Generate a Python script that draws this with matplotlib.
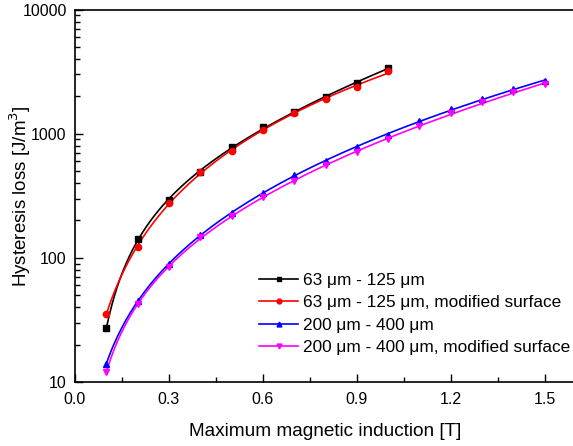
import numpy as np
import matplotlib
matplotlib.use("Agg")
import matplotlib.pyplot as plt
from matplotlib.ticker import LogLocator, FixedLocator, NullFormatter

plt.rcParams['font.family'] = ['Liberation Sans', 'DejaVu Sans']

# Data
x_small = [0.1, 0.2, 0.3, 0.4, 0.5, 0.6, 0.7, 0.8, 0.9, 1.0]
y_63_125 = [27, 141, 292, 493, 780, 1130, 1483, 1980, 2540, 3400]
y_63_125_mod = [35.3, 122, 278, 488, 728, 1065, 1473, 1910, 2360, 3190]
x_large = [0.1, 0.2, 0.3, 0.4, 0.5, 0.6, 0.7, 0.8, 0.9, 1.0, 1.1, 1.2, 1.3, 1.4, 1.5]
y_200_400 = [14.0, 44.9, 89, 153, 228, 334, 467, 601, 785, 975, 1263, 1577, 1900, 2275, 2654]
y_200_400_mod = [12.0, 42.3, 83.7, 146, 218, 310, 415, 558, 706, 899, 1159, 1456, 1786, 2148, 2506]

labels = ["63 μm - 125 μm", "63 μm - 125 μm, modified surface",
          "200 μm - 400 μm", "200 μm - 400 μm, modified surface"]
colors = ["black", "#ff0000", "#0000ff", "#ff00ff"]
markers = ["s", "o", "^", "v"]

W, H = 573, 446
fig = plt.figure(figsize=(W / 100, H / 100), dpi=100)
left, right, top, bottom = 75, 576, 9.5, 382
ax = fig.add_axes([left / W, (H - bottom) / H, (right - left) / W, (bottom - top) / H])

series = [(x_small, y_63_125), (x_small, y_63_125_mod),
          (x_large, y_200_400), (x_large, y_200_400_mod)]

for (xs, ys), c, m, lab in zip(series, colors, markers, labels):
    xs = np.asarray(xs, float)
    ys = np.asarray(ys, float)
    # smooth fitted curve in log-log space
    p = np.polyfit(np.log10(xs), np.log10(ys), 3)
    xf = np.linspace(xs.min(), xs.max(), 200)
    yf = 10 ** np.polyval(p, np.log10(xf))
    ax.plot(xf, yf, color=c, lw=1.2, zorder=2)
    ax.plot(xs, ys, linestyle='none', marker=m, color=c, ms=4.5, zorder=3)
    ax.plot([], [], color=c, marker=m, ms=3.5, lw=1.2, label=lab)

ax.set_yscale('log')
ax.set_xlim(0, 1.6)
ax.set_ylim(10, 10000)
ax.xaxis.set_major_locator(FixedLocator([0.0, 0.3, 0.6, 0.9, 1.2, 1.5]))
ax.xaxis.set_minor_locator(FixedLocator([0.15, 0.45, 0.75, 1.05, 1.35]))
ax.set_xticklabels(["0.0", "0.3", "0.6", "0.9", "1.2", "1.5"])
ax.yaxis.set_major_locator(FixedLocator([10, 100, 1000, 10000]))
ax.set_yticklabels(["10", "100", "1000", "10000"])
ax.yaxis.set_minor_locator(LogLocator(base=10, subs=np.arange(2, 10)))
ax.yaxis.set_minor_formatter(NullFormatter())

ax.tick_params(which='both', direction='in', top=False, right=False, labelsize=11.5, width=1)
ax.tick_params(which='major', length=6)
ax.tick_params(which='minor', length=3.5)
ax.tick_params(axis='x', pad=7)
ax.tick_params(axis='y', pad=6)

for s in ax.spines.values():
    s.set_linewidth(1.2)

ax.set_xlabel("Maximum magnetic induction [T]", fontsize=13.7)
ax.xaxis.set_label_coords(0.5, -(423 - bottom) / (bottom - top))
ax.set_ylabel("Hysteresis loss [J/m$^3$]", fontsize=13.5)
ax.yaxis.set_label_coords(-(75 - 33) / (right - left), 0.5)

leg = ax.legend(loc='lower right', bbox_to_anchor=((570 - left) / (right - left), (bottom - 355) / (bottom - top)),
                frameon=False, fontsize=12.4, handlelength=2.3, handletextpad=0.25,
                labelspacing=0.42, borderaxespad=0.0, borderpad=0.0)

fig.savefig("out.png", dpi=100)
